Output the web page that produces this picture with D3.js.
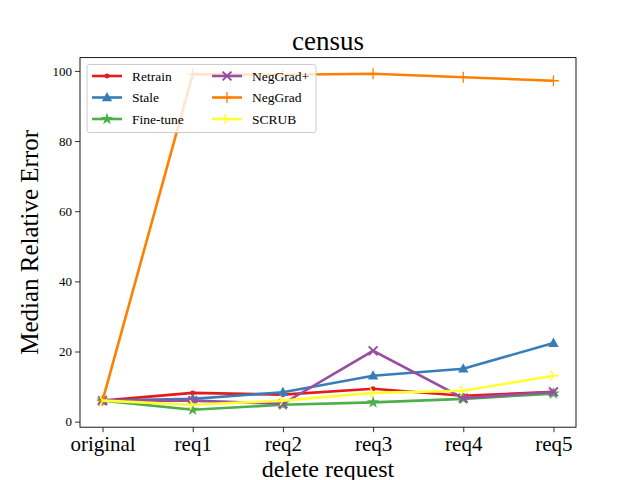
<!DOCTYPE html>
<html>
<head>
<meta charset="utf-8">
<script src="https://cdn.jsdelivr.net/npm/d3@7"></script>
<style>
  body { margin: 0; background: #fff; }
  text { font-family: "Liberation Serif", "DejaVu Serif", serif; }
</style>
</head>
<body>
<script>
// values
var requests = ['original', 'req1', 'req2', 'req3', 'req4', 'req5'];
var methods = ['Retrain', 'Stale', 'Fine-tune', 'NegGrad+', 'NegGrad', 'SCRUB'];
var retrain  = [6.0, 8.2, 7.7, 9.4, 7.4, 8.5];
var stale    = [6.0, 6.5, 8.4, 13.1, 15.1, 22.4];
var finetune = [6.0, 3.4, 4.8, 5.5, 6.5, 8.0];
var neggradp = [6.0, 6.0, 5.1, 20.2, 6.7, 8.5];
var neggrad  = [6.0, 99.1, 98.9, 99.2, 98.2, 97.2];
var scrub    = [6.0, 4.8, 6.0, 8.2, 8.8, 13.1];
var yTicks = [0, 20, 40, 60, 80, 100];

var colors = ['#e41a1c', '#377eb8', '#4daf4a', '#984ea3', '#ff7f00', '#ffff33'];
var shapes = ['dot', 'tri', 'star', 'x', 'plus', 'tri_right'];
var series = [retrain, stale, finetune, neggradp, neggrad, scrub];

var W = 640, H = 480;
var pl = 80, pr = 576, pt = 57.6, pb = 427.2;

var svg = d3.select('body').append('svg')
    .attr('width', W).attr('height', H);

var x = d3.scaleLinear().domain([-0.25, 5.25]).range([pl, pr]);
var y = d3.scaleLinear().domain([-1.58, 103.8]).range([pb, pt]);

// axes
var xAxis = d3.axisBottom(x).tickValues(d3.range(requests.length))
    .tickFormat(function(i){ return requests[i]; }).tickSizeOuter(0).tickSize(5).tickPadding(4);
var gx = svg.append('g').attr('transform', 'translate(0,' + pb + ')').call(xAxis);
gx.selectAll('text').style('font-size', '21px').attr('fill', '#000')
    .style('font-family', '"Liberation Serif", serif');
gx.select('.domain').remove();

var yAxis = d3.axisLeft(y).tickValues(yTicks).tickSizeOuter(0).tickSize(5).tickPadding(3);
var gy = svg.append('g').attr('transform', 'translate(' + pl + ',0)').call(yAxis);
gy.selectAll('text').style('font-size', '13px').attr('fill', '#000')
    .style('font-family', '"Liberation Serif", serif');
gy.select('.domain').remove();
svg.selectAll('.tick line').attr('stroke', '#000').attr('stroke-width', 0.8);

var line = d3.line()
    .x(function(d, i){ return x(i); })
    .y(function(d){ return y(d); });

function marker(g, shape, color, size) {
    var s = size;
    if (shape === 'dot') {
        g.append('circle').attr('r', s * 0.45).attr('fill', color);
    } else if (shape === 'tri') {
        g.append('path').attr('d', 'M0,' + (-s) + 'L' + (s * 0.95) + ',' + (s * 0.7) + 'L' + (-s * 0.95) + ',' + (s * 0.7) + 'Z')
            .attr('fill', color);
    } else if (shape === 'star') {
        g.append('path').attr('d', d3.symbol().type(d3.symbolStar).size(s * s * 1.6)()).attr('fill', color);
    } else if (shape === 'x') {
        g.append('path').attr('d', 'M' + (-s*0.8) + ',' + (-s*0.8) + 'L' + (s*0.8) + ',' + (s*0.8) + 'M' + (-s*0.8) + ',' + (s*0.8) + 'L' + (s*0.8) + ',' + (-s*0.8))
            .attr('stroke', color).attr('stroke-width', 2);
    } else if (shape === 'plus') {
        g.append('path').attr('d', 'M' + (-s) + ',0L' + s + ',0M0,' + (-s) + 'L0,' + s)
            .attr('stroke', color).attr('stroke-width', 1.3);
    } else if (shape === 'tri_right') {
        g.append('path').attr('d', 'M0,0L' + s + ',0M0,0L' + (-s*0.5) + ',' + (-s*0.87) + 'M0,0L' + (-s*0.5) + ',' + (s*0.87))
            .attr('stroke', color).attr('stroke-width', 1.5);
    }
}

series.forEach(function(vals, k) {
    svg.append('path').datum(vals)
        .attr('d', line)
        .attr('fill', 'none')
        .attr('stroke', colors[k])
        .attr('stroke-width', 2.6);
    vals.forEach(function(v, i) {
        var g = svg.append('g').attr('transform', 'translate(' + x(i) + ',' + y(v) + ')');
        marker(g, shapes[k], colors[k], 5.5);
    });
});

// frame
svg.append('rect').attr('x', pl).attr('y', pt)
    .attr('width', pr - pl).attr('height', pb - pt)
    .attr('fill', 'none').attr('stroke', '#000').attr('stroke-width', 0.9);

// legend
var lg = svg.append('g');
lg.append('rect').attr('x', 87).attr('y', 64.5).attr('width', 229).attr('height', 68)
    .attr('rx', 2.5).attr('fill', '#fff').attr('fill-opacity', 0.8)
    .attr('stroke', '#ccc').attr('stroke-width', 1);
methods.forEach(function(m, k) {
    var col = Math.floor(k / 3), row = k % 3;
    var lx = 92 + col * 120, ly = 76 + row * 21.5;
    lg.append('line').attr('x1', lx).attr('x2', lx + 30).attr('y1', ly).attr('y2', ly)
        .attr('stroke', colors[k]).attr('stroke-width', 2.6);
    var g = lg.append('g').attr('transform', 'translate(' + (lx + 15) + ',' + ly + ')');
    marker(g, shapes[k], colors[k], 5.5);
    lg.append('text').attr('x', lx + 40).attr('y', ly + 4.5)
        .style('font-size', '13.5px').text(m);
});

// labels
svg.append('text').attr('x', (pl + pr) / 2).attr('y', 50)
    .attr('text-anchor', 'middle').style('font-size', '27px').text('census');
svg.append('text').attr('x', (pl + pr) / 2).attr('y', 477)
    .attr('text-anchor', 'middle').style('font-size', '24px').text('delete request');
svg.append('text').attr('transform', 'translate(38,' + ((pt + pb) / 2) + ') rotate(-90)')
    .attr('text-anchor', 'middle').style('font-size', '25px').text('Median Relative Error');
</script>
</body>
</html>
